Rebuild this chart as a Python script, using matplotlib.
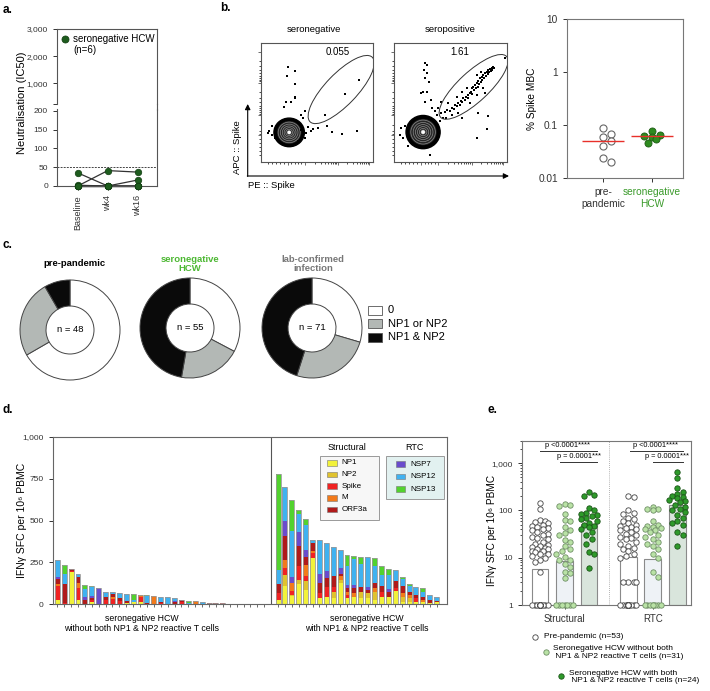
import matplotlib
matplotlib.use('Agg')
import matplotlib.pyplot as plt
import numpy as np
from matplotlib.patches import Ellipse, Rectangle

plt.rcParams['font.family'] = ['Liberation Sans', 'DejaVu Sans']

# ---------------- data ----------------
# panel a: neutralisation (IC50) per participant at Baseline, wk4, wk16
timepoints = ['Baseline', 'wk4', 'wk16']
neut_p1 = [35, 0, 0]
neut_p2 = [0, 41, 37]
neut_p3 = [0, 0, 16]
neut_p4 = [2, 0, 0]
neut_p5 = [0, 0, 0]
neut_p6 = [0, 0, 0]
neut_threshold = 50

# panel b: flow plots (read positions in plot units)
neg_out_x = [100, 120, 95, 122, 122, 120, 92, 108, 88, 150, 140, 212, 273, 315, 218, 190, 233, 262, 308, 175,
             160, 145, 130, 50, 42, 38, 52, 60, 150, 155, 170, 98, 110, 80, 130, 140]
neg_out_y = [87, 98, 112, 138, 175, 180, 193, 193, 208, 220, 230, 232, 168, 126, 265, 270, 282, 288, 279, 273,
             268, 240, 255, 265, 280, 285, 290, 300, 300, 285, 278, 322, 325, 318, 310, 275]
pos_out_x = [112, 118, 108, 118, 110, 122, 105, 118, 100, 128, 112, 133, 150, 140, 148, 160, 50, 40, 35, 45, 60, 127,
             155, 165, 170, 178, 185, 192, 198, 200, 206, 210, 215, 218, 222, 225, 230, 232, 238, 240, 245, 248,
             250, 252, 255, 258, 260, 262, 265, 268, 270, 272, 275, 278, 280, 282, 285, 288, 290, 292, 295, 298,
             300, 302, 305, 308, 310, 312, 315, 318, 220, 235, 205, 190, 210, 180, 245, 265, 285, 265, 278, 290,
             295, 265, 300, 270, 220, 175, 160, 350]
pos_out_y = [75, 80, 95, 105, 120, 130, 160, 160, 165, 185, 190, 210, 210, 220, 232, 190, 265, 270, 290, 300, 325, 352,
             250, 240, 222, 215, 218, 210, 212, 200, 205, 195, 200, 188, 192, 180, 185, 175, 170, 178, 165, 160,
             150, 168, 145, 155, 140, 150, 135, 145, 128, 138, 120, 130, 115, 125, 110, 118, 105, 112, 100, 108,
             95, 102, 92, 98, 88, 95, 85, 90, 160, 150, 175, 230, 225, 195, 195, 170, 150, 110, 100, 165,
             272, 300, 235, 225, 240, 240, 225, 60]
neg_gate_value = '0.055'
pos_gate_value = '1.61'

# panel b right: % Spike MBC
mbc_groups = ['pre-\npandemic', 'seronegative\nHCW']
mbc_pre = [0.089, 0.068, 0.059, 0.049, 0.040, 0.024, 0.020]
mbc_hcw = [0.077, 0.066, 0.063, 0.059, 0.054, 0.045]
mbc_median = [0.049, 0.061]

# panel c: donuts (0, NP1 or NP2, NP1 & NP2)
donut_titles = ['pre-pandemic', 'seronegative\nHCW', 'lab-confirmed\ninfection']
donut_n = [48, 55, 71]
donut_pre = [32, 12, 4]
donut_hcw = [18, 11, 26]
donut_lab = [21, 18, 32]
donut_labels = ['0', 'NP1 or NP2', 'NP1 & NP2']

# panel d: stacked bars, per antigen (without both NP1&NP2: 31 HCW; with: 24 HCW)
antigens = ['NP1', 'NP2', 'Spike', 'M', 'ORF3a', 'NSP7', 'NSP12', 'NSP13']
wo_np1 = [28, 0, 190, 26, 0, 16, 0, 0, 0, 0, 8, 14, 16, 0, 0, 0, 0, 0, 0, 0, 0, 0, 0, 0, 0, 0, 0, 0, 0, 0, 0]
wo_np2 = [0, 0, 0, 0, 0, 0, 0, 0, 0, 0, 0, 0, 0, 0, 0, 0, 0, 0, 0, 0, 0, 0, 0, 0, 0, 0, 0, 0, 0, 0, 0]
wo_spike = [80, 10, 8, 70, 0, 10, 0, 26, 34, 20, 0, 0, 30, 0, 0, 6, 0, 0, 14, 0, 0, 0, 0, 0, 6, 0, 0, 0, 0, 0, 0]
wo_m = [15, 0, 0, 34, 0, 0, 0, 0, 8, 0, 0, 0, 10, 0, 52, 0, 0, 0, 0, 0, 20, 0, 0, 0, 0, 0, 0, 0, 0, 0, 0]
wo_orf3a = [25, 110, 14, 32, 26, 14, 0, 20, 20, 16, 14, 0, 0, 8, 0, 10, 0, 14, 12, 0, 0, 0, 8, 6, 0, 4, 3, 2, 0, 0, 0]
wo_nsp7 = [12, 0, 0, 0, 20, 10, 96, 0, 0, 0, 0, 0, 0, 0, 0, 0, 0, 8, 0, 0, 0, 0, 0, 0, 0, 0, 0, 0, 0, 0, 0]
wo_nsp12 = [106, 58, 0, 20, 44, 56, 0, 30, 10, 30, 40, 14, 0, 40, 0, 26, 42, 14, 0, 8, 0, 14, 0, 0, 0, 0, 0, 0, 0, 0, 0]
wo_nsp13 = [0, 58, 0, 0, 26, 6, 0, 0, 0, 0, 0, 34, 0, 8, 0, 0, 0, 0, 0, 12, 0, 0, 0, 0, 0, 0, 0, 0, 0, 0, 0]

w_np1 = [26, 110, 48, 120, 86, 276, 40, 46, 36, 126, 36, 46, 36, 36, 26, 46, 46, 82, 16, 16, 16, 14, 10, 12]
w_np2 = [0, 66, 10, 26, 56, 0, 0, 0, 40, 20, 0, 0, 40, 30, 50, 0, 0, 0, 30, 20, 0, 0, 0, 0]
w_spike = [44, 40, 24, 80, 24, 30, 26, 60, 30, 0, 20, 0, 0, 0, 0, 30, 0, 14, 0, 0, 20, 0, 0, 0]
w_m = [0, 50, 44, 0, 66, 10, 0, 0, 0, 20, 20, 20, 0, 0, 20, 0, 0, 0, 24, 20, 0, 12, 0, 0]
w_orf3a = [52, 144, 0, 124, 48, 50, 60, 50, 60, 16, 20, 34, 30, 20, 30, 36, 30, 46, 40, 20, 20, 16, 16, 10]
w_nsp7 = [0, 86, 36, 82, 46, 0, 56, 40, 0, 34, 20, 16, 0, 20, 0, 0, 14, 0, 0, 0, 0, 0, 0, 0]
w_nsp12 = [84, 206, 278, 108, 150, 20, 204, 170, 174, 106, 114, 154, 136, 174, 100, 64, 82, 64, 40, 36, 50, 34, 30, 20]
w_nsp13 = [570, 0, 180, 20, 30, 0, 0, 0, 0, 0, 66, 16, 40, 0, 50, 50, 38, 0, 12, 10, 0, 20, 0, 0]

# panel e: IFNg SFC per 10^6 PBMC
e_categories = ['Structural', 'RTC']
e_pre_struct = [145, 105, 62, 60, 58, 55, 50, 48, 45, 42, 40, 38, 35, 32, 30, 28, 26, 25, 22, 20, 19, 18, 17, 16,
                15, 15, 14, 14, 13, 12, 12, 11, 10, 9, 8, 5] + [1] * 17
e_wo_struct = [135, 128, 122, 85, 64, 60, 45, 39, 33, 30, 24, 22, 18, 15, 14, 12, 10.6, 9, 8.8, 7.4, 6.5, 5,
               4.7, 3.7] + [1] * 7
e_w_struct = [245, 210, 205, 115, 100, 90, 85, 80, 75, 70, 65, 60, 55, 50, 48, 45, 40, 35, 30, 25, 20, 13, 12, 6]
e_pre_rtc = [200, 190, 100, 90, 85, 70, 65, 60, 55, 50, 48, 45, 42, 40, 38, 35, 32, 30, 28, 26, 25, 22, 20, 18,
             16, 15, 14, 12, 11, 10, 3, 3, 3, 3] + [1] * 19
e_wo_rtc = [120, 110, 105, 100, 60, 50, 48, 45, 42, 40, 38, 35, 30, 28, 25, 22, 20, 18, 15, 12, 10, 5, 4] + [1] * 8
e_w_rtc = [650, 480, 300, 250, 220, 200, 190, 180, 170, 160, 150, 130, 120, 110, 100, 95, 80, 70, 60, 55, 50,
           35, 30, 18]
e_bar_struct = [4.9, 7.4, 50]
e_bar_rtc = [9.4, 8.3, 128]
e_p_all = 'p <0.0001****'
e_p_with = 'p = 0.0001***'
e_legend = ['Pre-pandemic (n=53)',
            'Seronegative HCW without both\n NP1 & NP2 reactive T cells (n=31)',
            'Seronegative HCW with both\n NP1 & NP2 reactive T cells (n=24)']

# ---------------- layout helpers ----------------
W, H = 710, 691
fig = plt.figure(figsize=(W / 100, H / 100), dpi=100)


def rect(x0, y0, x1, y1):
    return [x0 / W, 1 - y1 / H, (x1 - x0) / W, (y1 - y0) / H]


def ftext(x, y, s, **kw):
    fig.text(x / W, 1 - y / H, s, **kw)


def style_spines(ax, color='#555555', lw=0.8):
    for sp in ax.spines.values():
        sp.set_color(color)
        sp.set_linewidth(lw)
    ax.tick_params(colors='#333333', width=0.7, length=3)


def swarm(vals, ppd, d, step, max_w):
    placed, out = [], []
    cands = [0.0]
    k = 1
    while k * step <= max_w + 1e-9:
        cands += [k * step, -k * step]
        k += 1
    for v in vals:
        y = np.log10(v) * ppd
        ch = None
        for c in cands:
            if all((c - px) ** 2 + (y - py) ** 2 >= d * d for px, py in placed):
                ch = c
                break
        if ch is None:
            best = -1
            for c in cands:
                md = min((c - px) ** 2 + (y - py) ** 2 for px, py in placed)
                if md > best:
                    best, ch = md, c
        placed.append((ch, y))
        out.append(ch)
    return np.array(out)


TICK = 6
GREEN_T = '#4db833'

# ---------------- panel a ----------------
axa_t = fig.add_axes(rect(57, 29, 157, 104))
axa_b = fig.add_axes(rect(57, 109, 157, 186))
xa = np.arange(len(timepoints))
for ax in (axa_t, axa_b):
    style_spines(ax)
    ax.set_xlim(-0.69, 2.64)
    ax.tick_params(labelsize=TICK)
axa_t.set_ylim(240, 3000)
axa_t.set_yticks([240, 1000, 2000, 3000])
axa_t.set_yticklabels(['', '1,000', '2,000', '3,000'])
axa_t.spines['bottom'].set_visible(False)
axa_t.set_xticks([])
axa_b.set_ylim(0, 205)
axa_b.set_yticks([0, 50, 100, 150, 200])
axa_b.spines['top'].set_visible(False)
axa_b.axhline(neut_threshold, color='#444444', lw=0.7, ls=(0, (2, 1.2)))
for series in (neut_p1, neut_p2, neut_p3, neut_p4, neut_p5, neut_p6):
    axa_b.plot(xa, series, color='#333333', lw=0.9, zorder=2, clip_on=False)
    axa_b.scatter(xa, series, s=22, color='#1e5c1e', edgecolor='#103d10', lw=0.5, zorder=3, clip_on=False)
axa_b.set_xticks(xa)
axa_b.set_xticklabels(timepoints, rotation=90, fontsize=6.5)
ftext(22, 103, 'Neutralisation (IC50)', rotation=90, ha='center', va='center', fontsize=8)
ftext(73, 39, 'seronegative HCW', fontsize=7, va='center')
ftext(73, 50, '(n=6)', fontsize=7, va='center')
ftext(3, 10, 'a.', fontsize=8.5, fontweight='bold', va='center')

# ---------------- panel b flow ----------------
def flow(ax, ox, oy, blob, gate, label):
    ax.set_xlim(18, 356)
    ax.set_ylim(372, 14)
    style_spines(ax, '#555555', 0.8)
    cx, cy, rx, ry = blob
    ax.add_patch(Ellipse((cx, cy), 2 * rx, 2 * ry, color='black', zorder=2))
    ax.add_patch(Ellipse((cx, cy), 1.5 * rx, 1.5 * ry, color='#262626', zorder=2))
    for f in (0.72, 0.58, 0.45, 0.33, 0.22, 0.12):
        ax.add_patch(Ellipse((cx, cy), 2 * f * rx, 2 * f * ry, facecolor='none',
                             edgecolor='#8c8c8c', lw=0.5, zorder=3))
    ax.add_patch(Ellipse((cx, cy), 0.14 * rx, 0.14 * ry, color='white', zorder=3))
    ax.scatter(ox, oy, s=4, color='black', marker='s', lw=0, zorder=4)
    gx, gy, gw, gh, ga = gate
    ax.add_patch(Ellipse((gx, gy), gw, gh, angle=ga, facecolor='none', edgecolor='#333333', lw=0.7, zorder=5))
    yt = [290, 232, 133, 40]
    yminor = [232 + 95 * np.log10(k) for k in range(2, 10) if 232 + 95 * np.log10(k) < 290]
    yminor += [133 + 99 * np.log10(k) for k in range(2, 10)]
    yminor += [40 + 93 * np.log10(k) for k in range(2, 10)]
    yminor += [290 + 12 * k for k in range(1, 6)]
    ax.set_yticks(yt)
    ax.set_yticks(yminor, minor=True)
    xt = [100, 150, 250, 345]
    xminor = [150 + 100 * np.log10(k) for k in range(2, 10)] + [250 + 95 * np.log10(k) for k in range(2, 10)]
    xminor += [100 - 12 * k for k in range(1, 6)] + [100 + 10 * k for k in range(1, 5)]
    ax.set_xticks(xt)
    ax.set_xticks(xminor, minor=True)
    ax.tick_params(which='both', labelleft=False, labelbottom=False, direction='out', width=0.5)
    ax.tick_params(which='major', length=2)
    ax.tick_params(which='minor', length=1.2)


axn = fig.add_axes(rect(261, 43, 373, 162))
axp = fig.add_axes(rect(394, 43, 507, 162))
flow(axn, neg_out_x, neg_out_y, (103, 283, 46, 43), (260, 154, 270, 95, -46), neg_gate_value)
flow(axp, pos_out_x, pos_out_y, (105, 282, 51, 50), (256, 146, 269, 90, -43), pos_gate_value)
ftext(314, 30, 'seronegative', ha='center', va='center', fontsize=6.8)
ftext(450, 30, 'seropositive', ha='center', va='center', fontsize=6.8)
ftext(338, 52, neg_gate_value, ha='center', va='center', fontsize=7)
ftext(460, 52, pos_gate_value, ha='center', va='center', fontsize=7)
ftext(238, 147, 'APC :: Spike', rotation=90, ha='center', va='center', fontsize=6.8)
ftext(248, 186, 'PE :: Spike', ha='left', va='center', fontsize=6.8)
ftext(220, 8, 'b.', fontsize=8.5, fontweight='bold', va='center')

# ---------------- panel b MBC ----------------
axm = fig.add_axes(rect(567, 19, 683, 178))
style_spines(axm, '#777777', 0.8)
axm.set_yscale('log')
axm.set_ylim(0.01, 10)
axm.set_xlim(-0.73, 1.63)
axm.set_yticks([0.01, 0.1, 1, 10])
axm.set_yticklabels(['0.01', '0.1', '1', '10'], fontsize=7.3)
axm.yaxis.set_minor_locator(matplotlib.ticker.NullLocator())
ppd_m = 53.0
off_pre = swarm(mbc_pre, ppd_m, 7.5, 4.2, 12) / 49.0
off_hcw = swarm(mbc_hcw, ppd_m, 7.5, 4.2, 12) / 49.0
axm.scatter(0 + off_pre, mbc_pre, s=26, facecolor='white', edgecolor='#666666', lw=0.8, zorder=3)
axm.scatter(1 + off_hcw, mbc_hcw, s=26, facecolor='#2e8b1f', edgecolor='#1d5c14', lw=0.6, zorder=3)
for i, med in enumerate(mbc_median):
    axm.hlines(med, i - 0.43, i + 0.43, color='#e8302a', lw=1.0, zorder=4)
axm.set_xticks([0, 1])
axm.set_xticklabels(mbc_groups, fontsize=7.3)
axm.get_xticklabels()[1].set_color('#3a9a2a')
axm.set_ylabel('% Spike MBC', fontsize=7.3, labelpad=1)

# ---------------- panel c donuts ----------------
donut_colors = ['white', '#b3b8b5', '#0a0a0a']
centers = [(70, 330), (190, 328), (312, 328)]
for (cx, cy), vals, n in zip(centers, (donut_pre, donut_hcw, donut_lab), donut_n):
    axc = fig.add_axes(rect(cx - 52, cy - 52, cx + 52, cy + 52))
    axc.pie(vals, colors=donut_colors, startangle=90, counterclock=False, radius=1,
            wedgeprops=dict(width=0.52, edgecolor='#444444', linewidth=0.7))
    axc.set_xlim(-1.04, 1.04)
    axc.set_ylim(-1.04, 1.04)
    axc.text(0, 0, f'n = {n}', ha='center', va='center', fontsize=6.8)
ftext(74, 264, donut_titles[0], ha='center', va='center', fontsize=6.8, fontweight='bold', color='black')
ftext(190, 264, donut_titles[1], ha='center', va='center', fontsize=6.8, fontweight='bold', color=GREEN_T,
      linespacing=1.1)
ftext(313, 264, donut_titles[2], ha='center', va='center', fontsize=6.8, fontweight='bold', color='#777777',
      linespacing=1.1)
ftext(3, 245, 'c.', fontsize=8.5, fontweight='bold', va='center')

# ---------------- panel d ----------------
seg_colors = ['#f2f23a', '#e0c22e', '#f02222', '#f27a1a', '#b01a1a', '#6a4ccc', '#3fb2f0', '#52d22e']
axd = fig.add_axes(rect(52.7, 436.7, 447, 604.3))
style_spines(axd, '#666666', 0.8)
axd.set_xlim(-0.67, 56.5)
axd.set_ylim(0, 1000)
wo_sets = [wo_np1, wo_np2, wo_spike, wo_m, wo_orf3a, wo_nsp7, wo_nsp12, wo_nsp13]
w_sets = [w_np1, w_np2, w_spike, w_m, w_orf3a, w_nsp7, w_nsp12, w_nsp13]
x_wo = np.arange(len(wo_np1))
x_w = len(wo_np1) + 1 + np.arange(len(w_np1))
for xs, sets in ((x_wo, wo_sets), (x_w, w_sets)):
    bottom = np.zeros(len(xs))
    for vals, col in zip(sets, seg_colors):
        v = np.array(vals, float)
        axd.bar(xs, v, bottom=bottom, width=0.72, color=col, edgecolor='none', zorder=2)
        bottom += v
    axd.bar(xs, bottom, width=0.72, facecolor='none', edgecolor='#9a9a9a', lw=0.6, zorder=3)
axd.axvline(len(wo_np1), color='#555555', lw=0.8)
axd.set_yticks([0, 250, 500, 750, 1000])
axd.set_yticklabels(['0', '250', '500', '750', '1,000'], fontsize=TICK)
axd.set_xticks(np.concatenate([x_wo, x_w]))
axd.set_xticklabels([])
axd.tick_params(axis='x', length=2, width=0.5)
ftext(22, 520, 'IFNγ SFC per 10⁶ PBMC', rotation=90, ha='center', va='center', fontsize=7.5)
ftext(142, 618.5, 'seronegative HCW', ha='center', va='center', fontsize=6.3)
ftext(142, 628.5, 'without both NP1 & NP2 reactive T cells', ha='center', va='center', fontsize=6.3)
ftext(367, 618.5, 'seronegative HCW', ha='center', va='center', fontsize=6.3)
ftext(367, 628.5, 'with NP1 & NP2 reactive T cells', ha='center', va='center', fontsize=6.3)
ftext(3, 410, 'd.', fontsize=8.5, fontweight='bold', va='center')

# ---------------- panel e ----------------
axe = fig.add_axes(rect(521.7, 440.7, 690.7, 605))
style_spines(axe, '#777777', 0.8)
axe.set_yscale('log')
axe.set_ylim(1, 3000)
axe.set_xlim(-0.75, 6.15)
axe.set_yticks([1, 10, 100, 1000])
axe.set_yticklabels(['1', '10', '100', '1,000'], fontsize=TICK)
axe.tick_params(axis='y', which='minor', length=1.5, width=0.5)
axe.yaxis.set_minor_formatter(matplotlib.ticker.NullFormatter())
bar_faces = ['white', '#eef2f6', '#d9e5dc']
pt_faces = ['white', '#b9e2a5', '#2e9a2a']
pt_edges = ['#444444', '#6f8f66', '#1b5518']
ppd_e, ppx_e = 47.0, 24.5
groups_pos = [[0, 1, 2], [3.6, 4.6, 5.6]]
groups_vals = [[e_pre_struct, e_wo_struct, e_w_struct], [e_pre_rtc, e_wo_rtc, e_w_rtc]]
groups_bar = [e_bar_struct, e_bar_rtc]
for poss, vals_list, bars in zip(groups_pos, groups_vals, groups_bar):
    for i, (p, vals, b) in enumerate(zip(poss, vals_list, bars)):
        axe.bar(p, b, bottom=1, width=0.68, color=bar_faces[i], edgecolor='#8a8a8a', lw=0.8, zorder=1)
        vv = sorted(vals, reverse=True)
        offs = swarm(vv, ppd_e, 5.4, 2.7, 10.5) / ppx_e
        axe.scatter(p + offs, vv, s=15, facecolor=pt_faces[i], edgecolor=pt_edges[i], lw=0.6,
                    zorder=3, clip_on=False)
axe.axvline(2.82, color='#999999', lw=0.6, ls=(0, (1, 1.5)))
for (a, b2), yv, txt, tx in (((0, 2.33), 1820, e_p_all, 1.1), ((0.82, 2.33), 1070, e_p_with, 1.6),
                             ((3.67, 5.85), 1820, e_p_all, 4.7), ((4.62, 5.85), 1070, e_p_with, 5.2)):
    axe.plot([a, b2], [yv, yv], color='#333333', lw=0.7)
    axe.text(tx, yv * 1.1, txt, ha='center', va='bottom', fontsize=5.3)
axe.set_xticks([1, 4.6])
axe.set_xticklabels(e_categories, fontsize=7)
ftext(492, 530, 'IFNγ SFC per 10⁶ PBMC', rotation=90, ha='center', va='center', fontsize=7.2)
ftext(487, 410, 'e.', fontsize=8.5, fontweight='bold', va='center')

# ---------------- overlay (arrows, legends) ----------------
axo = fig.add_axes([0, 0, 1, 1])
axo.set_xlim(0, W)
axo.set_ylim(H, 0)
axo.axis('off')
axo.patch.set_alpha(0)
# panel a legend dot and break on right spine
axo.scatter([65], [39], s=26, color='#1e5c1e', edgecolor='#103d10', lw=0.5)
axo.plot([157, 157], [103.5, 109.5], color='#555555', lw=0.8)
# flow arrows
axo.annotate('', xy=(247.7, 104), xytext=(247.7, 176.4),
             arrowprops=dict(arrowstyle='-|>', lw=0.8, color='black', mutation_scale=8, shrinkA=0, shrinkB=0))
axo.annotate('', xy=(509, 176), xytext=(247.3, 176),
             arrowprops=dict(arrowstyle='-|>', lw=0.8, color='black', mutation_scale=8, shrinkA=0, shrinkB=0))
# panel c legend
for k, (lab, col) in enumerate(zip(donut_labels, donut_colors)):
    yy = 310 + 13.5 * k
    axo.add_patch(Rectangle((368.3, yy - 4.5), 13.4, 9, facecolor=col, edgecolor='#555555', lw=0.6))
    axo.text(388, yy, lab, fontsize=8, va='center', ha='left')
# panel d legend
axo.text(347, 447, 'Structural', ha='center', va='center', fontsize=6.5)
axo.text(414.3, 447, 'RTC', ha='center', va='center', fontsize=6.5)
axo.add_patch(Rectangle((320, 456), 59, 64, facecolor='#f7f7f7', edgecolor='#9a9a9a', lw=0.7))
axo.add_patch(Rectangle((386, 456), 58, 43, facecolor='#e2f1f0', edgecolor='#9a9a9a', lw=0.7))
for k, (lab, col) in enumerate(zip(antigens[:5], seg_colors[:5])):
    yy = 462.7 + 11.7 * k
    axo.add_patch(Rectangle((327.3, yy - 2.8), 9.4, 5.6, facecolor=col, edgecolor='#777777', lw=0.4))
    axo.text(341.7, yy, lab, fontsize=5.8, va='center', ha='left')
for k, (lab, col) in enumerate(zip(antigens[5:], seg_colors[5:])):
    yy = 464 + 12.5 * k
    axo.add_patch(Rectangle((395.7, yy - 2.8), 9.4, 5.6, facecolor=col, edgecolor='#777777', lw=0.4))
    axo.text(410, yy, lab, fontsize=5.8, va='center', ha='left')
# panel e legend
leg_mx = [535, 545.7, 561]
leg_my = [636.7, 651.7, 676]
leg_tx = [544, 553.3, 569.3]
leg_ty = [636.7, 652.5, 677]
for k in range(3):
    axo.scatter([leg_mx[k]], [leg_my[k]], s=15, facecolor=pt_faces[k], edgecolor=pt_edges[k], lw=0.6)
    axo.text(leg_tx[k], leg_ty[k], e_legend[k], fontsize=6, va='center', ha='left', linespacing=1.15)

fig.savefig('out.png', dpi=100)
